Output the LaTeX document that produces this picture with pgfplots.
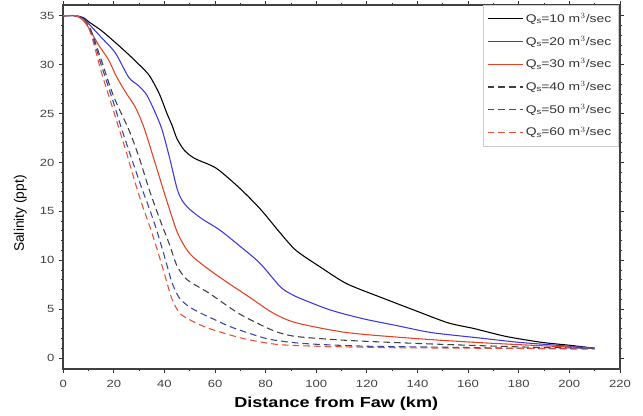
\documentclass[border=0pt]{standalone}
\usepackage{fontspec}
\setmainfont{Liberation Sans}[FakeStretch=1.25]
\newfontfamily\ylfont{Liberation Sans}
\usepackage{pgfplots}
\pgfplotsset{compat=1.18}
\definecolor{cblue}{RGB}{60,55,225}
\definecolor{cred}{RGB}{228,65,35}
\definecolor{dgray}{RGB}{60,65,70}
\definecolor{dblue}{RGB}{55,70,165}
\definecolor{dred}{RGB}{232,80,55}
\begin{document}
\begin{tikzpicture}
\useasboundingbox (-47.25pt,-34.5pt) rectangle (433.25pt,275.75pt);
\begin{axis}[
  at={(0,0)}, anchor=south west,
  scale only axis,
  width=416pt, height=272pt,
  xmin=0, xmax=220, ymin=-1.13, ymax=36.1,
  xtick={0,20,...,220}, ytick={0,5,...,35},
  minor x tick num=1, minor y tick num=4,
  tick align=outside,
  major tick length=3pt, minor tick length=1.8pt,
  tick style={line width=0.6pt, black!80},
  axis line style={line width=1.1pt, black!75},
  every tick label/.append style={font=\fontsize{7.8}{9}\selectfont, text=black!75},
  xticklabel style={yshift=-1.5pt},
  /pgf/number format/assume math mode=true,
  xlabel={\textbf{Distance from Faw (km)}},
  ylabel={\ylfont Salinity (ppt)},
  xlabel style={font=\fontsize{10.8}{12}\selectfont, at={(axis description cs:0.5,0)}, anchor=center, yshift=-26.25pt, xshift=-4pt},
  every axis y label/.style={at={(axis description cs:-0.077,0.427)}, rotate=90, anchor=center, font=\fontsize{10.3}{12}\selectfont},
  legend style={at={(rel axis cs:0.997,1)}, anchor=north east,
    font=\fontsize{8.3}{10}\selectfont, draw=black!20, row sep=4.8pt,
    inner xsep=3pt, inner ysep=4pt, text=black!80},
  legend cell align=left,
  legend image code/.code={\draw[#1] (0cm,0cm) -- (0.92cm,0cm);},
  every axis plot/.append style={line width=0.8pt, smooth, tension=0.45},
]
\addplot[black] coordinates {
(0,35) (5,35) (8,34.8) (10,34.4) (15,33.5) (20,32.4) (26,31.0) (30,30.0) (34,28.9) (38,27.0) (41,25.0) (43,23.8) (45,22.4) (48,21.2) (52,20.4) (60.5,19.4) (70,17.3) (78,15.2) (85.7,12.8) (92,11.0) (101.6,9.3) (112,7.6) (125.5,6.2) (138.6,4.9) (152,3.6) (162.5,3.0) (175,2.2) (189,1.6) (200,1.3) (210,1.0)};
\addlegendentry{Q$_\mathrm{s}$=10 m$^3$/sec}
\addplot[cblue] coordinates {
(0,35) (5,35) (8,34.7) (10,34.2) (15,32.8) (20.6,31.2) (25.9,28.7) (30,27.8) (33,26.9) (36,25.3) (39,23.4) (42,20.5) (45,17.3) (47,16.1) (50,15.2) (55,14.2) (61.8,13.1) (70,11.4) (77.7,9.7) (85.7,7.3) (89.6,6.6) (93.6,6.1) (105.6,4.9) (118.7,4.0) (132,3.3) (145.4,2.6) (162.5,2.1) (180,1.6) (195,1.3) (210,1.0)};
\addlegendentry{Q$_\mathrm{s}$=20 m$^3$/sec}
\addplot[cred] coordinates {
(0,35) (5,35) (8,34.5) (10,33.8) (14,32.0) (17.9,30.5) (21,28.8) (24.6,27.2) (28.6,25.6) (32,23.5) (36,20.2) (39.8,17.0) (42,15.2) (45,12.9) (48,11.4) (51,10.4) (57.8,9.0) (65,7.7) (73.7,6.2) (82.9,4.6) (92,3.6) (112,2.6) (138.6,2.0) (162.5,1.6) (185,1.3) (210,1.0)};
\addlegendentry{Q$_\mathrm{s}$=30 m$^3$/sec}
\addplot[dgray, dash pattern=on 5pt off 3pt] coordinates {
(0,35) (5,35) (8,34.6) (11,33.5) (15,30.5) (20,26.7) (26,23.3) (30,20.5) (34,17.2) (38,14.3) (42,11.6) (45,9.4) (49,8.0) (57.8,6.6) (69.7,4.5) (83,2.8) (92,2.2) (112,1.8) (138.6,1.5) (160,1.3) (185,1.1) (210,1.0)};
\addlegendentry{Q$_\mathrm{s}$=40 m$^3$/sec}
\addplot[dblue, dash pattern=on 5pt off 3pt] coordinates {
(0,35) (5,35) (8,34.6) (11,33.3) (15,30.0) (20,26.0) (23,23.5) (27,20.4) (31,17.4) (34,15.3) (37,13.0) (40,10.4) (43,7.7) (46,6.1) (50,5.2) (55,4.5) (60,3.9) (67,3.1) (80,2.0) (90,1.6) (100,1.4) (120,1.2) (150,1.1) (180,1.0) (210,0.95)};
\addlegendentry{Q$_\mathrm{s}$=50 m$^3$/sec}
\addplot[dred, dash pattern=on 5pt off 3pt] coordinates {
(0,35) (5,35) (8,34.6) (11,33.1) (15,29.3) (19,26.0) (22,23.5) (25,21.0) (28,18.3) (31,15.8) (34,13.6) (37,11.2) (40,8.6) (43,6.0) (46,4.6) (50,3.9) (57.8,3.0) (71,2.0) (84,1.4) (100,1.2) (130,1.05) (160,1.0) (210,0.9)};
\addlegendentry{Q$_\mathrm{s}$=60 m$^3$/sec}
\end{axis}
\end{tikzpicture}
\end{document}
